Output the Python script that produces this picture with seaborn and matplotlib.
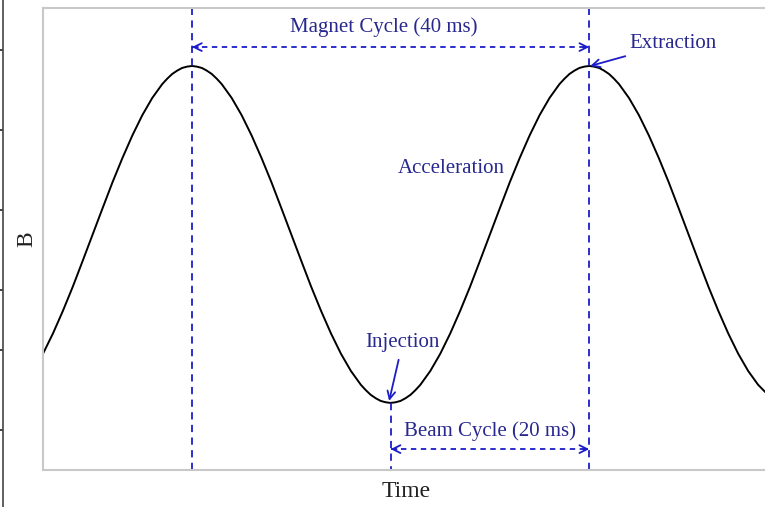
import numpy as np
import pandas as pd
import matplotlib.pyplot as plt
import seaborn as sns

# Time in ms, field B (normalised)
# (denser samples near the turning points)
time_ms = [0, 1, 2, 3, 4, 5, 6, 7, 8, 9, 10, 11,
           12, 12.5, 13, 13.5, 14, 14.5, 15, 15.5, 16, 16.5, 17, 17.5, 18,
           19, 20, 21, 22, 23, 24, 25, 26, 27, 28, 29, 30, 31,
           32, 32.5, 33, 33.5, 34, 34.5, 35, 35.5, 36, 36.5, 37, 37.5, 38,
           39, 40, 41, 42, 43, 44, 45, 46, 47, 48, 49, 50, 51,
           52, 52.5, 53, 53.5, 54, 54.5, 55, 55.5, 56, 56.5, 57, 57.5, 58,
           59, 60, 61, 62, 63, 64, 65, 66, 67, 68, 69, 70, 71, 72, 73]
b_field = [0.146, 0.206, 0.273, 0.345, 0.422, 0.500, 0.578, 0.655, 0.727, 0.794, 0.854, 0.905,
           0.946, 0.962, 0.976, 0.986, 0.994, 0.998, 1.000, 0.998, 0.994, 0.986, 0.976, 0.962, 0.946,
           0.905, 0.854, 0.794, 0.727, 0.655, 0.578, 0.500, 0.422, 0.345, 0.273, 0.206, 0.146, 0.095,
           0.054, 0.038, 0.024, 0.014, 0.006, 0.002, 0.000, 0.002, 0.006, 0.014, 0.024, 0.038, 0.054,
           0.095, 0.146, 0.206, 0.273, 0.345, 0.422, 0.500, 0.578, 0.655, 0.727, 0.794, 0.854, 0.905,
           0.946, 0.962, 0.976, 0.986, 0.994, 0.998, 1.000, 0.998, 0.994, 0.986, 0.976, 0.962, 0.946,
           0.905, 0.854, 0.794, 0.727, 0.655, 0.578, 0.500, 0.422, 0.345, 0.273, 0.206, 0.146, 0.095, 0.054, 0.024]

# cycle markers (ms)
t_peak1 = 15
t_inject = 35
t_extract = 55

df = pd.DataFrame({"Time": time_ms, "B": b_field})

sns.set_theme(style="white")
plt.rcParams["font.family"] = ["Liberation Serif", "DejaVu Serif"]

line_blue = "#1c1cc8"
text_blue = "#28288e"

fig = plt.figure(figsize=(7.65, 5.07), dpi=100)
ax = fig.add_axes([43 / 765, 37 / 507, 727 / 765, 462 / 507])

sns.lineplot(data=df, x="Time", y="B", color="black", lw=1.4, ax=ax)

ax.set_xlim(0, 73.2)
ax.set_ylim(-0.199, 1.172)
ax.set_xticks([])
ax.set_yticks([])
for s in ax.spines.values():
    s.set_color("#c8c8c8")
    s.set_linewidth(1.5)

# vertical dashed markers
ax.axvline(t_peak1, color=line_blue, ls=(0, (4, 3)), lw=1.3)
ax.axvline(t_extract, color=line_blue, ls=(0, (4, 3)), lw=1.3)
ax.plot([t_inject, t_inject], [0.0, -0.199], color=line_blue, ls=(0, (4, 3)), lw=1.3)

# double arrows
def dashed_span(x0, x1, y):
    ax.plot([x0, x1], [y, y], color=line_blue, ls=(0, (3, 2.5)), lw=1.3)
    ax.annotate("", xy=(x0, y), xytext=(x0 + 0.6, y),
                arrowprops=dict(arrowstyle="->", color=line_blue, lw=1.3,
                                mutation_scale=14, shrinkA=0, shrinkB=0))
    ax.annotate("", xy=(x1, y), xytext=(x1 - 0.6, y),
                arrowprops=dict(arrowstyle="->", color=line_blue, lw=1.3,
                                mutation_scale=14, shrinkA=0, shrinkB=0))

dashed_span(t_peak1, t_extract, 1.056)
dashed_span(t_inject, t_extract, -0.137)

ax.text(34.3, 1.116, "Magnet Cycle (40 ms)", color=text_blue, fontsize=15,
        ha="center", va="center")
ax.text(45.0, -0.083, "Beam Cycle (20 ms)", color=text_blue, fontsize=15,
        ha="center", va="center")
ax.text(41.1, 0.697, "Acceleration", color=text_blue, fontsize=15,
        ha="center", va="center")

ax.annotate("Extraction", xy=(55.1, 1.0), xytext=(59.0, 1.068),
            color=text_blue, fontsize=15, ha="left", va="center",
            arrowprops=dict(arrowstyle="->", color=line_blue, lw=1.3,
                            mutation_scale=14, shrinkA=1, shrinkB=0))
ax.annotate("Injection", xy=(34.85, 0.006), xytext=(36.2, 0.178),
            color=text_blue, fontsize=15, ha="center", va="center",
            arrowprops=dict(arrowstyle="->", color=line_blue, lw=1.3,
                            mutation_scale=14, shrinkA=3, shrinkB=0))

ax.set_xlabel("Time", fontsize=17, labelpad=8, color="#222222")
ax.set_ylabel("B", fontsize=17, labelpad=4, color="#222222")

# left edge remnant with ticks
ax2 = fig.add_axes([0, 0, 3 / 765, 1])
ax2.set_ylim(507, 0)
ax2.set_xticks([])
ax2.set_yticks([50, 130, 210, 290, 350, 430])
ax2.set_yticklabels([])
ax2.yaxis.tick_right()
ax2.tick_params(axis="y", direction="in", length=3, width=1.2, color="#222222")
for k in ["left", "top", "bottom"]:
    ax2.spines[k].set_visible(False)
ax2.spines["right"].set_color("#444444")
ax2.spines["right"].set_linewidth(1.2)
ax2.patch.set_alpha(0)

fig.savefig("out.png", dpi=100)
